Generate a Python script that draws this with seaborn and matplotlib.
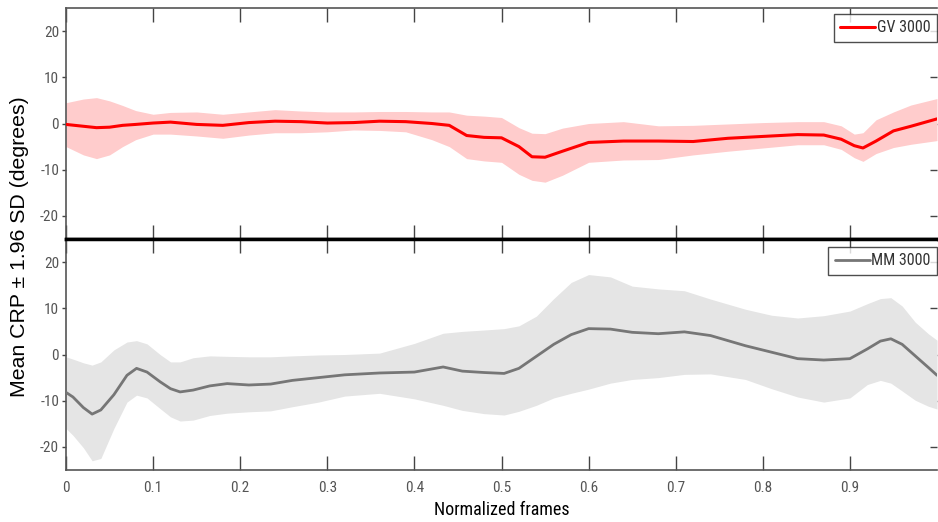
import matplotlib
matplotlib.use("Agg")
import matplotlib.pyplot as plt
import seaborn as sns
import pandas as pd

# ---------------- data ----------------
x_top = [0, .02, .035, .05, .065, .08, .10, .12, .15, .18, .21, .24, .27, .30, .33, .36, .39, .42, .44, .46,
         .48, .50, .52, .535, .55, .57, .60, .64, .68, .72, .76, .80, .84, .87, .89, .905, .915, .93, .95, .97, 1.0]
gv_mean = [-0.2, -0.6, -0.9, -0.8, -0.4, -0.2, 0.1, 0.3, -0.2, -0.4, 0.2, 0.5, 0.4, 0.1, 0.2, 0.5, 0.4, 0.0, -0.4, -2.6,
           -3.0, -3.1, -5.0, -7.2, -7.3, -6.0, -4.1, -3.8, -3.8, -3.9, -3.2, -2.8, -2.4, -2.5, -3.4, -4.8, -5.3, -3.8, -1.6, -0.6, 1.0]
gv_upper = [4.5, 5.3, 5.6, 4.9, 3.9, 2.8, 2.0, 2.4, 2.5, 2.0, 2.5, 3.0, 2.7, 2.5, 2.5, 2.6, 2.6, 2.5, 2.5, 1.8,
            1.6, 1.3, -0.9, -2.1, -2.2, -1.0, 0.0, 0.4, -0.5, -0.4, -0.1, 0.2, 0.4, 0.4, -0.5, -2.3, -2.0, 0.8, 2.5, 4.0, 5.4]
gv_lower = [-5.0, -6.8, -7.6, -6.8, -5.0, -3.5, -2.3, -2.3, -2.7, -3.2, -2.5, -2.0, -2.0, -1.8, -1.4, -1.5, -1.8, -3.5, -5.0, -7.6,
            -8.1, -8.4, -11.0, -12.3, -12.7, -11.2, -8.4, -7.9, -7.8, -6.8, -6.0, -5.3, -4.6, -4.6, -5.6, -7.4, -8.2, -6.5, -5.2, -4.5, -3.7]

x_bot = [0, .008, .02, .03, .04, .055, .07, .081, .093, .108, .12, .131, .146, .165, .185, .21, .235, .26, .29, .32,
         .36, .40, .433, .455, .48, .503, .52, .54, .56, .58, .60, .625, .65, .68, .71, .74, .78, .81, .84, .87,
         .90, .92, .935, .947, .96, .975, .99, 1.0]
mm_mean = [-8.2, -9.2, -11.5, -12.9, -12.0, -8.7, -4.5, -3.0, -3.8, -5.9, -7.4, -8.1, -7.7, -6.8, -6.3, -6.6, -6.4, -5.6, -5.0, -4.4,
           -4.0, -3.8, -2.7, -3.6, -3.9, -4.1, -3.0, -0.4, 2.2, 4.3, 5.6, 5.5, 4.8, 4.5, 4.9, 4.1, 1.9, 0.5, -0.9, -1.2,
           -0.9, 1.2, 2.9, 3.4, 2.2, -0.3, -2.8, -4.5]
mm_upper = [-0.5, -1.0, -1.8, -2.3, -1.6, 1.0, 2.7, 3.0, 2.3, 0.0, -1.6, -1.6, -0.7, -0.3, -0.4, -0.5, -0.5, -0.3, -0.1, 0.0,
            0.3, 2.4, 4.6, 5.0, 5.3, 5.6, 6.2, 8.3, 12.1, 15.6, 17.3, 16.8, 14.8, 14.2, 13.8, 12.0, 9.8, 8.5, 7.9, 8.4,
            9.4, 11.0, 12.1, 12.3, 10.5, 7.0, 4.5, 3.1]
mm_lower = [-16.0, -17.5, -20.2, -23.0, -22.5, -16.0, -10.3, -8.8, -9.4, -11.7, -13.5, -14.4, -14.2, -13.2, -12.7, -12.4, -12.2, -11.3, -10.3, -9.0,
            -8.4, -9.6, -11.0, -12.1, -12.8, -13.1, -12.3, -11.0, -9.4, -8.4, -7.5, -6.2, -5.4, -5.0, -4.3, -4.2, -5.4, -7.4, -9.2, -10.3,
            -9.4, -6.5, -5.6, -6.2, -7.9, -9.9, -11.2, -11.8]

x_ticks = [0, 0.1, 0.2, 0.3, 0.4, 0.5, 0.6, 0.7, 0.8, 0.9]
x_ticklabels = ["0", "0.1", "0.2", "0.3", "0.4", "0.5", "0.6", "0.7", "0.8", "0.9"]
y_ticks = [-20, -10, 0, 10, 20]
y_ticklabels = ["-20", "-10", "0", "10", "20"]

series_names = ["GV 3000", "MM 3000"]
y_label = "Mean CRP \u00b1 1.96 SD (degrees)"
x_label = "Normalized frames"

# ---------------- style ----------------
sns.set_style("white")
narrow = ["Roboto Condensed", "Liberation Sans", "DejaVu Sans"]
plt.rcParams["font.family"] = narrow

W, H = 938, 522
fig = plt.figure(figsize=(W / 100, H / 100), dpi=100)

def px_box(l, t, r, b):
    return [l / W, 1 - b / H, (r - l) / W, (b - t) / H]

ax1 = fig.add_axes(px_box(66, 8, 937, 239))
ax2 = fig.add_axes(px_box(66, 239, 937, 470))

df_top = pd.DataFrame({"x": x_top, "mean": gv_mean, "lo": gv_lower, "hi": gv_upper})
df_bot = pd.DataFrame({"x": x_bot, "mean": mm_mean, "lo": mm_lower, "hi": mm_upper})

specs = [
    (ax1, df_top, "#ff0000", "#ffcccc", series_names[0], 2.2, 6 / 231),
    (ax2, df_bot, "#767676", "#e5e5e5", series_names[1], 2.0, 8 / 231),
]

tick_col = "#555555"
for ax, df, lc, fc, name, lw, off in specs:
    ax.fill_between(df["x"], df["lo"], df["hi"], color=fc, linewidth=0, zorder=1)
    sns.lineplot(data=df, x="x", y="mean", ax=ax, color=lc, linewidth=lw, label=name, zorder=3)
    ax.set_xlim(0, 1.0)
    ax.set_ylim(-25, 25)
    ax.set_xticks(x_ticks)
    ax.set_yticks(y_ticks)
    ax.set_yticklabels(y_ticklabels, fontsize=11, color=tick_col)
    ax.set_xlabel("")
    ax.set_ylabel("")
    ax.tick_params(axis="x", direction="in", top=True, bottom=True, length=10, width=1, color="#444444",
                   labelsize=11, labelcolor=tick_col, pad=8)
    ax.tick_params(axis="y", direction="out", left=True, right=False, length=3, width=1, color="#444444", pad=2)
    sec = ax.secondary_yaxis("right")
    sec.set_yticks(y_ticks)
    sec.set_yticklabels([])
    sec.tick_params(direction="in", length=5, width=1, color="#444444")
    sec.spines["right"].set_visible(False)
    for s in ["left", "top", "bottom"]:
        ax.spines[s].set_color("#555555")
        ax.spines[s].set_linewidth(1.2)
    ax.spines["right"].set_visible(False)
    leg = ax.legend(loc="upper right", bbox_to_anchor=(1.0, 1 - off), frameon=True, fancybox=False,
                    fontsize=11.5, handlelength=2.2, handletextpad=0.1, borderpad=0.4, borderaxespad=0.0,
                    labelcolor="#333333")
    leg.get_frame().set_edgecolor("#222222")
    leg.get_frame().set_linewidth(1.0)

ax1.set_xticklabels([])
ax2.set_xticklabels(x_ticklabels)
ax1.spines["bottom"].set_color("black")
ax1.spines["bottom"].set_linewidth(2.5)
ax1.spines["bottom"].set_zorder(5)
ax2.spines["top"].set_color("black")
ax2.spines["top"].set_linewidth(2.5)

ax2.set_xlabel(x_label, fontsize=13, color="black", labelpad=4)
fig.text(20 / W, 1 - 247 / H, y_label, rotation=90, va="center", ha="center",
         fontsize=15.3, color="black", family=["Liberation Sans", "DejaVu Sans"])

fig.savefig("out.png", dpi=100)
